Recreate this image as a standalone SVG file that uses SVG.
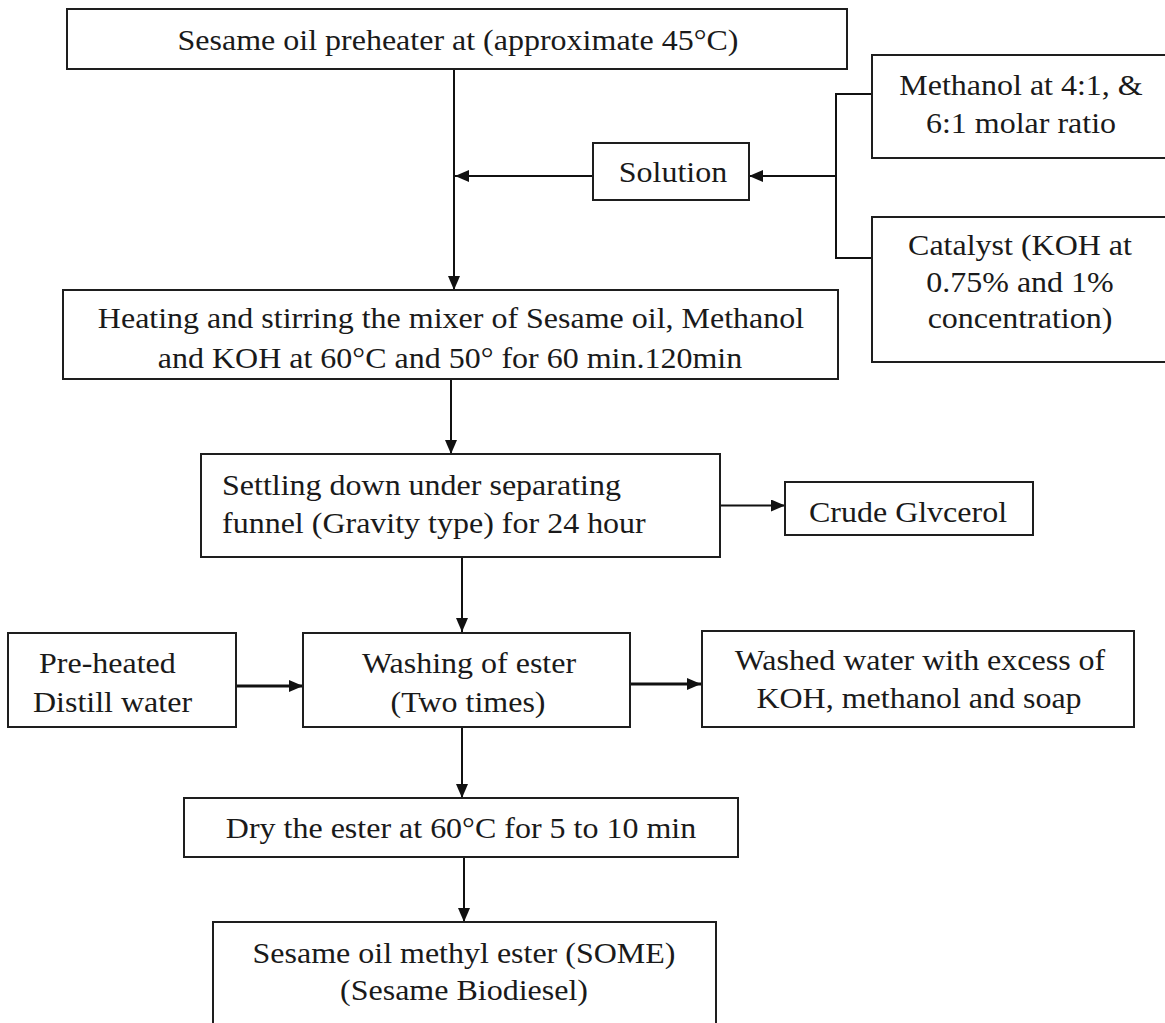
<svg xmlns="http://www.w3.org/2000/svg" width="1165" height="1023" viewBox="0 0 1165 1023">
  <style>
    .box { fill: #ffffff; stroke: #1e1e1e; stroke-width: 2; }
    .t { font-family: "Liberation Serif", "Times New Roman", serif; font-size: 32px; fill: #1a1a1a; }
    .m { text-anchor: middle; }
    .s { text-anchor: start; }
    .c { fill: none; stroke: #111111; stroke-width: 2; }
    .thick { stroke-width: 3; }
  </style>
  <defs>
    <marker id="arrow" viewBox="0 0 14 12" refX="14" refY="6" markerWidth="14" markerHeight="12" markerUnits="userSpaceOnUse" orient="auto">
      <path d="M0,0 L14,6 L0,12 z" fill="#111111"/>
    </marker>
  </defs>
  <rect width="1165" height="1023" fill="#ffffff"/>

  <g id="connectors">
    <path class="c" d="M454,69 V290" marker-end="url(#arrow)"/>
    <path class="c" d="M593,176 H455" marker-end="url(#arrow)"/>
    <path class="c" d="M872,94 H836 V258 H872"/>
    <path class="c" d="M836,176 H749" marker-end="url(#arrow)"/>
    <path class="c" d="M451,379 V454" marker-end="url(#arrow)"/>
    <path class="c" d="M720,505.5 H785" marker-end="url(#arrow)"/>
    <path class="c" d="M462,557 V632" marker-end="url(#arrow)"/>
    <path class="c thick" d="M236,686 H303" marker-end="url(#arrow)"/>
    <path class="c thick" d="M630,684 H701" marker-end="url(#arrow)"/>
    <path class="c" d="M462,727 V798" marker-end="url(#arrow)"/>
    <path class="c" d="M464,857 V922" marker-end="url(#arrow)"/>
  </g>

  <g id="preheater">
    <rect class="box" x="67" y="9" width="780" height="60"/>
    <text class="t m" transform="translate(458,50) scale(1,0.94)">Sesame oil preheater at (approximate 45°C)</text>
  </g>

  <g id="solution">
    <rect class="box" x="593" y="143" width="156" height="57"/>
    <text class="t m" transform="translate(673,182) scale(1,0.94)">Solution</text>
  </g>

  <g id="methanol">
    <rect class="box" x="872" y="55" width="300" height="103"/>
    <text class="t m" transform="translate(1021,95) scale(1,0.94)">Methanol at 4:1, &amp;</text>
    <text class="t m" transform="translate(1021,133) scale(1,0.94)">6:1 molar ratio</text>
  </g>

  <g id="catalyst">
    <rect class="box" x="872" y="217" width="300" height="145"/>
    <text class="t m" transform="translate(1020,255) scale(1,0.94)">Catalyst (KOH at</text>
    <text class="t m" transform="translate(1020,292) scale(1,0.94)">0.75% and 1%</text>
    <text class="t m" transform="translate(1020,328) scale(1,0.94)">concentration)</text>
  </g>

  <g id="heating">
    <rect class="box" x="63" y="290" width="775" height="89"/>
    <text class="t m" transform="translate(451,328) scale(1,0.94)">Heating and stirring the mixer of Sesame oil, Methanol</text>
    <text class="t m" transform="translate(450,368) scale(1,0.94)">and KOH at 60°C and 50° for 60 min.120min</text>
  </g>

  <g id="settling">
    <rect class="box" x="201" y="454" width="519" height="103"/>
    <text class="t s" transform="translate(222,495) scale(1,0.94)">Settling down under separating</text>
    <text class="t s" transform="translate(222,533) scale(1,0.94)">funnel (Gravity type) for 24 hour</text>
  </g>

  <g id="glycerol">
    <rect class="box" x="785" y="482" width="248" height="53"/>
    <text class="t m" transform="translate(908,522) scale(1,0.94)">Crude Glvcerol</text>
  </g>

  <g id="distill-water">
    <rect class="box" x="8" y="633" width="228" height="94"/>
    <text class="t s" transform="translate(39,673) scale(1,0.94)">Pre-heated</text>
    <text class="t s" transform="translate(33,712) scale(1,0.94)">Distill water</text>
  </g>

  <g id="washing">
    <rect class="box" x="303" y="633" width="327" height="94"/>
    <text class="t m" transform="translate(469,673) scale(1,0.94)">Washing of ester</text>
    <text class="t m" transform="translate(468,712) scale(1,0.94)">(Two times)</text>
  </g>

  <g id="washed-water">
    <rect class="box" x="702" y="631" width="432" height="96"/>
    <text class="t m" transform="translate(920,670) scale(1,0.94)">Washed water with excess of</text>
    <text class="t m" transform="translate(919,708) scale(1,0.94)">KOH, methanol and soap</text>
  </g>

  <g id="dry">
    <rect class="box" x="184" y="798" width="554" height="59"/>
    <text class="t m" transform="translate(461,838) scale(1,0.94)">Dry the ester at 60°C for 5 to 10 min</text>
  </g>

  <g id="some">
    <rect class="box" x="213" y="922" width="503" height="110"/>
    <text class="t m" transform="translate(464,963) scale(1,0.94)">Sesame oil methyl ester (SOME)</text>
    <text class="t m" transform="translate(464,1000) scale(1,0.94)">(Sesame Biodiesel)</text>
  </g>
</svg>
